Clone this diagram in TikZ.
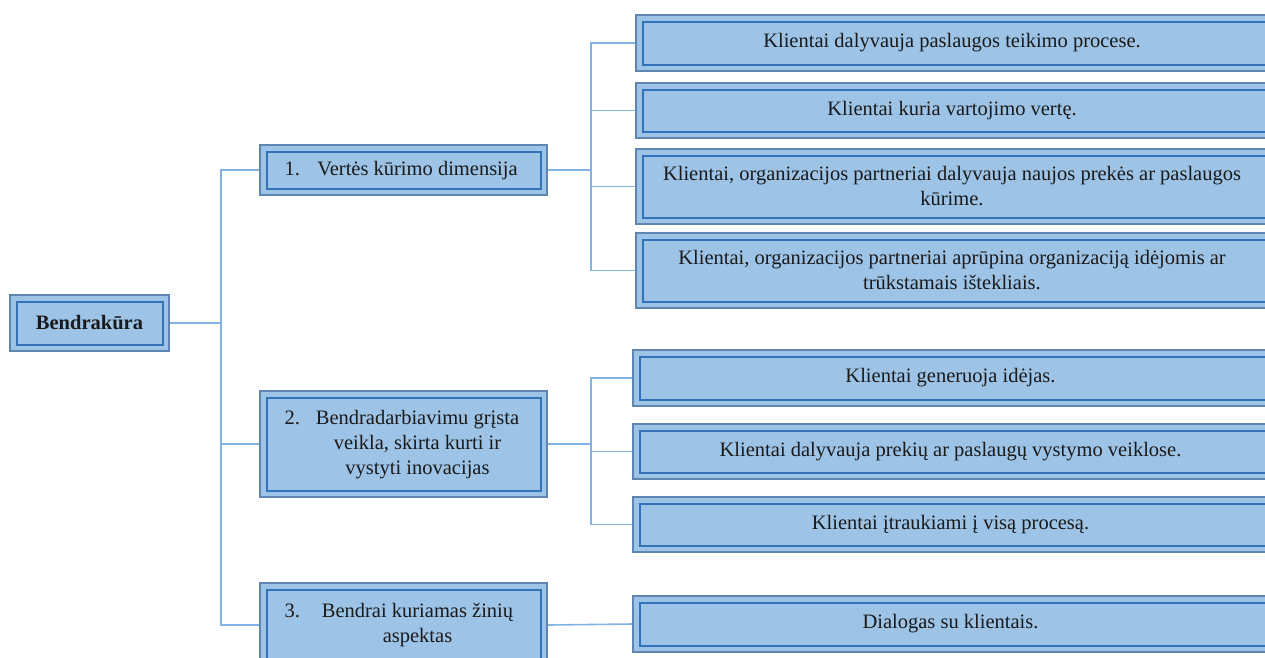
\documentclass[tikz,border=0pt]{standalone}
\usepackage{fontspec}
\setmainfont{Liberation Serif}
\usetikzlibrary{calc}
\definecolor{boxfill}{HTML}{9DC3E6}
\definecolor{outerc}{HTML}{5F86B0}
\definecolor{innerc}{HTML}{3272B9}
\definecolor{connc}{HTML}{83B3E2}
\definecolor{textc}{HTML}{1A1A1A}
\begin{document}
\begin{tikzpicture}[x=1pt,y=-1pt,
  box/.style={draw=outerc, line width=1.3pt, fill=boxfill, inner sep=0pt,
    text=textc, font=\fontsize{20.5}{25}\selectfont, align=center,
    path picture={\draw[innerc, line width=2pt]
      ([shift={(6.5pt,-6.5pt)}]path picture bounding box.north west) rectangle
      ([shift={(-6.5pt,6.5pt)}]path picture bounding box.south east);}},
  openbox/.style={draw=outerc, line width=1.3pt, fill=boxfill, inner sep=0pt,
    text=textc, font=\fontsize{20.5}{25}\selectfont, align=center,
    path picture={\draw[innerc, line width=2pt]
      ([shift={(6.5pt,-6.5pt)}]path picture bounding box.north west) rectangle
      ([shift={(20pt,6.5pt)}]path picture bounding box.south east);}},
  conn/.style={draw=connc, line width=1.6pt}]
\useasboundingbox (0,0) rectangle (1265,657);
\clip (0,0) rectangle (1265,657);
\fill[white] (0,0) rectangle (1265,657);

% root
\node[box, minimum width=159pt, minimum height=56pt] (root) at (89.5,323) {\textbf{Bendrakūra}};

% level 2
\node[box, minimum width=287pt, minimum height=50pt] (L1) at (403.5,170)
  {\makebox[28pt][l]{\begin{tabular}[t]{@{}l@{}}1.\end{tabular}}\makebox[210pt]{\begin{tabular}[t]{@{}c@{}}Vertės kūrimo dimensija\end{tabular}}};
\node[box, minimum width=287pt, minimum height=106pt] (L2) at (403.5,444)
  {\makebox[28pt][l]{\begin{tabular}[t]{@{}l@{}}2.\end{tabular}}\makebox[210pt]{\begin{tabular}[t]{@{}c@{}}Bendradarbiavimu grįsta\\veikla, skirta kurti ir\\vystyti inovacijas\end{tabular}}};
\node[box, minimum width=287pt, minimum height=84pt] (L3) at (403.5,625)
  {\makebox[28pt][l]{\begin{tabular}[t]{@{}l@{}}3.\end{tabular}}\makebox[210pt]{\begin{tabular}[t]{@{}c@{}}Bendrai kuriamas žinių\\aspektas\end{tabular}}};

% level 3, group A
\node[openbox, minimum width=632pt, minimum height=56pt] (A1) at (952,43) {Klientai dalyvauja paslaugos teikimo procese.};
\node[openbox, minimum width=632pt, minimum height=55pt] (A2) at (952,110.5) {Klientai kuria vartojimo vertę.};
\node[openbox, minimum width=632pt, minimum height=75pt] (A3) at (952,186.5) {Klientai, organizacijos partneriai dalyvauja naujos prekės ar paslaugos\\kūrime.};
\node[openbox, minimum width=632pt, minimum height=75pt] (A4) at (952,270.5) {Klientai, organizacijos partneriai aprūpina organizaciją idėjomis ar\\trūkstamais ištekliais.};

% group B
\node[openbox, minimum width=635pt, minimum height=56pt] (B1) at (950.5,378) {Klientai generuoja idėjas.};
\node[openbox, minimum width=635pt, minimum height=55pt] (B2) at (950.5,451.5) {Klientai dalyvauja prekių ar paslaugų vystymo veiklose.};
\node[openbox, minimum width=635pt, minimum height=55pt] (B3) at (950.5,524.5) {Klientai įtraukiami į visą procesą.};

% group C
\node[openbox, minimum width=635pt, minimum height=56pt] (C1) at (950.5,624) {Dialogas su klientais.};

% trunk coordinates
\coordinate (t1) at (221,0);
\coordinate (t2) at (591,0);

% connectors root -> level 2
\draw[conn] (root.east) -- (root.east -| t1) |- (L1.west);
\draw[conn] (root.east -| t1) |- (L2.west);
\draw[conn] (root.east -| t1) |- (L3.west);

% L1 -> A
\draw[conn] (L1.east) -- (L1.east -| t2) |- (A1.west);
\draw[conn] (L1.east -| t2) |- (A2.west);
\draw[conn] (L1.east -| t2) |- (A3.west);
\draw[conn] (L1.east -| t2) |- (A4.west);

% L2 -> B
\draw[conn] (L2.east) -- (L2.east -| t2) |- (B1.west);
\draw[conn] (L2.east -| t2) |- (B2.west);
\draw[conn] (L2.east -| t2) |- (B3.west);

% L3 -> C
\draw[conn] (L3.east) -- (C1.west);
\end{tikzpicture}
\end{document}
